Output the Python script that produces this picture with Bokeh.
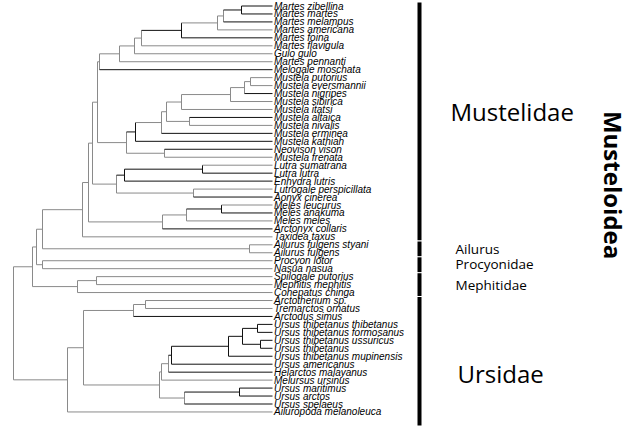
import math
from bokeh.plotting import figure
from bokeh.models import Range1d, ColumnDataSource, Label
from bokeh.embed import file_html
from bokeh.resources import INLINE
from bokeh.core.properties import value

# ---- data: tip names (top to bottom) ----
tips = [
    "Martes zibellina", "Martes martes", "Martes melampus", "Martes americana",
    "Martes foina", "Martes flavigula", "Gulo gulo", "Martes pennanti",
    "Melogale moschata", "Mustela putorius", "Mustela eversmannii", "Mustela nigripes",
    "Mustela sibirica", "Mustela itatsi", "Mustela altaica", "Mustela nivalis",
    "Mustela erminea", "Mustela kathiah", "Neovison vison", "Mustela frenata",
    "Lutra sumatrana", "Lutra lutra", "Enhydra lutris", "Lutrogale perspicillata",
    "Aonyx cinerea", "Meles leucurus", "Meles anakuma", "Meles meles",
    "Arctonyx collaris", "Taxidea taxus", "Ailurus fulgens styani", "Ailurus fulgens",
    "Procyon lotor", "Nasua nasua", "Spilogale putorius", "Mephitis mephitis",
    "Conepatus chinga", "Arctotherium sp.", "Tremarctos ornatus", "Arctodus simus",
    "Ursus thibetanus thibetanus", "Ursus thibetanus formosanus",
    "Ursus thibetanus ussuricus", "Ursus thibetanus", "Ursus thibetanus mupinensis",
    "Ursus americanus", "Helarctos malayanus", "Melursus ursinus", "Ursus maritimus",
    "Ursus arctos", "Ursus spelaeus", "Ailuropoda melanoleuca",
]
tip_depth = 259

# internal nodes: name -> children
node_children = {
    "root": ["Musteloidea", "Ursidae"],
    "Musteloidea": ["n36", "Mephitidae"],
    "n36": ["n42", "Procyonidae"],
    "n42": ["Mustelidae", "AilurusN"],
    "Mustelidae": ["n88", "Taxidea taxus"],
    "n88": ["n92", "Melinae"],
    "n92": ["n97", "Lutrinae"],
    "n97": ["n99", "n126"],
    "n99": ["n119", "Melogale moschata"],
    "n119": ["n134", "Martes pennanti"],
    "n134": ["n141", "Gulo gulo"],
    "n141": ["n181", "Martes flavigula"],
    "n181": ["n217", "Martes foina"],
    "n217": ["n223", "Martes americana"],
    "n223": ["n241", "Martes melampus"],
    "n241": ["Martes zibellina", "Martes martes"],
    "n126": ["n135", "n164"],
    "n135": ["n161", "Mustela kathiah"],
    "n161": ["n166", "Mustela erminea"],
    "n166": ["n181b", "n189"],
    "n181b": ["n230", "Mustela itatsi"],
    "n230": ["n244", "Mustela sibirica"],
    "n244": ["n250", "Mustela nigripes"],
    "n250": ["Mustela putorius", "Mustela eversmannii"],
    "n189": ["Mustela altaica", "Mustela nivalis"],
    "n164": ["Neovison vison", "Mustela frenata"],
    "Lutrinae": ["n124", "n193"],
    "n124": ["n202", "Enhydra lutris"],
    "n202": ["Lutra sumatrana", "Lutra lutra"],
    "n193": ["Lutrogale perspicillata", "Aonyx cinerea"],
    "Melinae": ["n186", "Arctonyx collaris"],
    "n186": ["n221", "Meles meles"],
    "n221": ["Meles leucurus", "Meles anakuma"],
    "AilurusN": ["Ailurus fulgens styani", "Ailurus fulgens"],
    "Procyonidae": ["Procyon lotor", "Nasua nasua"],
    "Mephitidae": ["n96", "Conepatus chinga"],
    "n96": ["Spilogale putorius", "Mephitis mephitis"],
    "Ursidae": ["n83", "Ailuropoda melanoleuca"],
    "n83": ["Tremarctinae", "Ursinae"],
    "Tremarctinae": ["n145", "Arctodus simus"],
    "n145": ["Arctotherium sp.", "Tremarctos ornatus"],
    "Ursinae": ["n162", "n184"],
    "n162": ["n168", "Melursus ursinus"],
    "n168": ["n171", "Helarctos malayanus"],
    "n171": ["n228", "Ursus americanus"],
    "n228": ["n242", "Ursus thibetanus mupinensis"],
    "n242": ["n257", "n260"],
    "n257": ["Ursus thibetanus thibetanus", "Ursus thibetanus formosanus"],
    "n260": ["Ursus thibetanus ussuricus", "Ursus thibetanus"],
    "n184": ["n239", "Ursus spelaeus"],
    "n239": ["Ursus maritimus", "Ursus arctos"],
}

# node depth (distance from root)
node_depth = {
    "root": 0, "Musteloidea": 19, "n36": 23, "n42": 29, "Mustelidae": 69,
    "n88": 75, "n92": 79, "n97": 84, "n99": 86, "n119": 106, "n134": 121,
    "n141": 128, "n181": 168, "n217": 204, "n223": 210, "n241": 228,
    "n126": 113, "n135": 122, "n161": 148, "n166": 153, "n181b": 168,
    "n230": 217, "n244": 231, "n250": 237, "n189": 176, "n164": 151,
    "Lutrinae": 103, "n124": 111, "n202": 189, "n193": 180,
    "Melinae": 149, "n186": 173, "n221": 208, "AilurusN": 236,
    "Procyonidae": 29, "Mephitidae": 64, "n96": 83,
    "Ursidae": 54, "n83": 70, "Tremarctinae": 120, "n145": 132,
    "Ursinae": 146, "n162": 148, "n168": 155, "n171": 158, "n228": 215,
    "n242": 229, "n257": 244, "n260": 247, "n184": 171, "n239": 226,
}

# family groups (tip ranges) for the side bar
group_names = ["Mustelidae", "Ailurus", "Procyonidae", "Mephitidae", "Ursidae"]
group_first = [0, 30, 32, 34, 37]
group_last = [29, 31, 33, 36, 51]

# ---- styles ----
GRAY = "#8a8a8a"
BLACK = "#111111"
black_edges = {
    "Martes zibellina", "Martes martes", "Martes melampus", "n241", "n181",
    "Melogale moschata", "Mustela nigripes", "Mustela altaica", "Mustela erminea",
    "Mustela kathiah", "Neovison vison", "n135", "n202", "n124", "Lutra lutra",
    "Enhydra lutris", "Aonyx cinerea", "Meles anakuma", "n221", "Arctonyx collaris",
    "Arctodus simus", "n171", "n228", "n242", "n257", "n260",
    "Ursus thibetanus thibetanus", "Ursus thibetanus formosanus",
    "Ursus thibetanus ussuricus", "Ursus thibetanus", "Ursus thibetanus mupinensis",
    "Ursus americanus", "Helarctos malayanus", "n239", "Ursus maritimus",
    "Ursus arctos", "Ursus spelaeus", "Martes foina",
}

# ---- layout computation ----
tip_index = {t: i for i, t in enumerate(tips)}
ypos = {}
xpos = {}


def place(n):
    if n in tip_index:
        ypos[n] = tip_index[n]
        xpos[n] = tip_depth
        return ypos[n]
    ch = node_children[n]
    ys = [place(c) for c in ch]
    ypos[n] = (ys[0] + ys[-1]) / 2.0
    xpos[n] = node_depth[n]
    return ypos[n]


place("root")

x0, y0, x1, y1, col = [], [], [], [], []
for n, ch in node_children.items():
    x0.append(xpos[n]); x1.append(xpos[n])
    y0.append(ypos[ch[0]]); y1.append(ypos[ch[-1]])
    col.append(BLACK if n in black_edges else GRAY)
    for c in ch:
        x0.append(xpos[n]); x1.append(xpos[c])
        y0.append(ypos[c]); y1.append(ypos[c])
        col.append(BLACK if c in black_edges else GRAY)

edges = ColumnDataSource(dict(x0=x0, y0=y0, x1=x1, y1=y1, color=col))

# ---- figure ----
W, H = 640, 426
px_per_tip = 7.96
top_off = 5.5
y_top = -top_off / px_per_tip
y_bot = y_top + H / px_per_tip

p = figure(width=W, height=H, output_backend="svg", toolbar_location=None,
           x_range=Range1d(-13, 627), y_range=Range1d(y_bot, y_top),
           x_axis_type=None, y_axis_type=None, min_border=0)
p.grid.visible = False
p.outline_line_color = None
p.background_fill_color = "white"
p.border_fill_color = "white"

p.segment(x0="x0", y0="y0", x1="x1", y1="y1", line_color="color",
          line_width=1, source=edges)

labels = ColumnDataSource(dict(x=[tip_depth + 1.5] * len(tips),
                               y=list(range(len(tips))), text=tips))
p.text(x="x", y="y", text="text", source=labels,
       text_font=value("Liberation Sans"), text_font_style="italic",
       text_font_size="10px", text_baseline="middle", text_align="left",
       text_color="black")

# side bar with small gaps between groups
bar_x = 406
gap = 0.07
bx0, by0, bx1, by1 = [], [], [], []
for k in range(len(group_names)):
    s = group_first[k] - 0.5 + (gap if k > 0 else 0.06)
    e = group_last[k] + 0.5 - (gap if k < len(group_names) - 1 else -1.2)
    bx0.append(bar_x); bx1.append(bar_x); by0.append(s); by1.append(e)
p.segment(x0=bx0, y0=by0, x1=bx1, y1=by1, line_color="black",
          line_width=4, line_cap="butt")

# group labels
lab_specs = [
    ("Mustelidae", 437, 13.3, "24px"),
    ("Ailurus", 442, 30.5, "13.5px"),
    ("Procyonidae", 442, 32.4, "13.5px"),
    ("Mephitidae", 442, 35.1, "13.5px"),
    ("Ursidae", 444, 46.2, "24px"),
]
for txt, lx, ly, fs in lab_specs:
    p.add_layout(Label(x=lx, y=ly, text=txt, text_font="Open Sans",
                       text_font_size=fs, text_baseline="middle",
                       text_align="left", text_color="black"))

p.add_layout(Label(x=600, y=22.5, text="Musteloidea", text_font="Open Sans",
                   text_font_size="24px", text_font_style="bold",
                   text_baseline="middle", text_align="center",
                   angle=-math.pi / 2, text_color="black"))

open("out.html", "w").write(file_html(p, INLINE))
